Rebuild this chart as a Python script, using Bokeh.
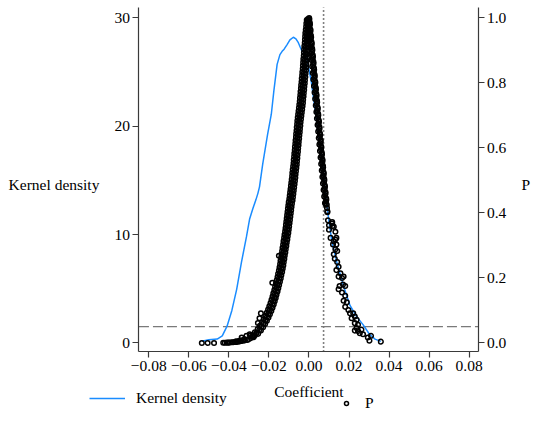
from bokeh.plotting import figure
from bokeh.models import (Range1d, LinearAxis, FixedTicker, Label, Legend,
                          LegendItem, CustomJSTickFormatter, Grid)
from bokeh.embed import file_html
from bokeh.resources import INLINE

# ---------------- data ----------------
kd_coef = [-0.0535, -0.0500, -0.0458, -0.0433, -0.0409, -0.0385, -0.0361, -0.0337,
           -0.0312, -0.0296, -0.0280, -0.0265, -0.0255, -0.0247, -0.0231, -0.0207,
           -0.0188, -0.0175, -0.0159, -0.0145, -0.0134, -0.0124, -0.0110, -0.0095,
           -0.0078, -0.0065, -0.0053, -0.0037, -0.0025, -0.0012, -0.0003, 0.0011,
           0.0035, 0.0050, 0.0068, 0.0084, 0.0100, 0.0115, 0.0141, 0.0173, 0.0205,
           0.0238, 0.0270, 0.0302, 0.0330, 0.0359]
kd_density = [0.15, 0.30, 0.36, 0.65, 1.55, 3.00, 4.95, 7.46,
              9.80, 11.46, 12.40, 13.20, 13.80, 14.40, 16.50, 19.20,
              21.10, 23.30, 25.70, 26.60, 26.90, 27.10, 27.50, 27.95,
              28.20, 28.05, 27.70, 27.00, 26.80, 26.30, 25.50, 24.20,
              20.90, 18.80, 16.50, 13.50, 11.20, 9.30, 7.30, 5.24, 3.46,
              2.43, 1.69, 0.80, 0.35, 0.15]

# (coefficient, P) of placebo estimates, left branch
p_left = [
    (-0.0005, 0.996), (0.0001, 0.999), (-0.0011, 0.993), (-0.0001, 0.988),
    (-0.0013, 0.983), (-0.0002, 0.978), (-0.0014, 0.973), (-0.0001, 0.968),
    (-0.0016, 0.963), (-0.0002, 0.958), (-0.0018, 0.953), (-0.0003, 0.948),
    (-0.0019, 0.943), (-0.0004, 0.938), (-0.0020, 0.933), (-0.0005, 0.928),
    (-0.0021, 0.923), (-0.0006, 0.918), (-0.0023, 0.913), (-0.0007, 0.908),
    (-0.0024, 0.903), (-0.0008, 0.898), (-0.0025, 0.893), (-0.0009, 0.888),
    (-0.0026, 0.883), (-0.0010, 0.878), (-0.0028, 0.873), (-0.0012, 0.868),
    (-0.0029, 0.863), (-0.0013, 0.858), (-0.0030, 0.853), (-0.0014, 0.848),
    (-0.0031, 0.843), (-0.0015, 0.838), (-0.0033, 0.833), (-0.0017, 0.828),
    (-0.0034, 0.823), (-0.0018, 0.818), (-0.0036, 0.813), (-0.0020, 0.808),
    (-0.0037, 0.803), (-0.0021, 0.798), (-0.0039, 0.793), (-0.0023, 0.788),
    (-0.0040, 0.783), (-0.0024, 0.778), (-0.0042, 0.773), (-0.0026, 0.768),
    (-0.0043, 0.763), (-0.0027, 0.758), (-0.0045, 0.753), (-0.0029, 0.748),
    (-0.0046, 0.743), (-0.0030, 0.738), (-0.0048, 0.733), (-0.0032, 0.728),
    (-0.0050, 0.723), (-0.0034, 0.718), (-0.0052, 0.713), (-0.0036, 0.708),
    (-0.0054, 0.703), (-0.0038, 0.698), (-0.0056, 0.693), (-0.0040, 0.688),
    (-0.0058, 0.683), (-0.0042, 0.678), (-0.0059, 0.673), (-0.0043, 0.668),
    (-0.0061, 0.663), (-0.0045, 0.658), (-0.0062, 0.653), (-0.0046, 0.648),
    (-0.0064, 0.643), (-0.0048, 0.638), (-0.0065, 0.633), (-0.0049, 0.628),
    (-0.0067, 0.623), (-0.0051, 0.618), (-0.0068, 0.613), (-0.0052, 0.608),
    (-0.0070, 0.603), (-0.0054, 0.598), (-0.0071, 0.593), (-0.0055, 0.588),
    (-0.0073, 0.583), (-0.0057, 0.578), (-0.0074, 0.573), (-0.0058, 0.568),
    (-0.0076, 0.563), (-0.0060, 0.558), (-0.0077, 0.553), (-0.0061, 0.548),
    (-0.0079, 0.543), (-0.0063, 0.538), (-0.0081, 0.533), (-0.0065, 0.528),
    (-0.0083, 0.523), (-0.0067, 0.518), (-0.0084, 0.513), (-0.0068, 0.508),
    (-0.0086, 0.503), (-0.0070, 0.498), (-0.0088, 0.493), (-0.0072, 0.488),
    (-0.0090, 0.483), (-0.0074, 0.478), (-0.0092, 0.473), (-0.0076, 0.468),
    (-0.0094, 0.463), (-0.0078, 0.458), (-0.0096, 0.453), (-0.0080, 0.448),
    (-0.0098, 0.443), (-0.0082, 0.438), (-0.0101, 0.433), (-0.0085, 0.428),
    (-0.0103, 0.423), (-0.0087, 0.418), (-0.0105, 0.413), (-0.0089, 0.408),
    (-0.0107, 0.403), (-0.0091, 0.398), (-0.0109, 0.393), (-0.0093, 0.388),
    (-0.0111, 0.383), (-0.0095, 0.378), (-0.0113, 0.373), (-0.0097, 0.368),
    (-0.0115, 0.363), (-0.0099, 0.358), (-0.0117, 0.353), (-0.0101, 0.348),
    (-0.0119, 0.343), (-0.0103, 0.338), (-0.0122, 0.333), (-0.0106, 0.328),
    (-0.0124, 0.323), (-0.0108, 0.318), (-0.0127, 0.313), (-0.0111, 0.308),
    (-0.0129, 0.303), (-0.0113, 0.298), (-0.0132, 0.293), (-0.0116, 0.288),
    (-0.0134, 0.283), (-0.0118, 0.278), (-0.0137, 0.273), (-0.0121, 0.268),
    (-0.0139, 0.263), (-0.0123, 0.258), (-0.0142, 0.253), (-0.0126, 0.248),
    (-0.0144, 0.243), (-0.0128, 0.238), (-0.0147, 0.233), (-0.0131, 0.228),
    (-0.0150, 0.223), (-0.0134, 0.218), (-0.0154, 0.213), (-0.0138, 0.208),
    (-0.0157, 0.203), (-0.0141, 0.198), (-0.0161, 0.193), (-0.0145, 0.188),
    (-0.0165, 0.183), (-0.0149, 0.178), (-0.0169, 0.173), (-0.0153, 0.168),
    (-0.0173, 0.163), (-0.0157, 0.158), (-0.0178, 0.153), (-0.0162, 0.148),
    (-0.0182, 0.143), (-0.0166, 0.138), (-0.0187, 0.133), (-0.0171, 0.128),
    (-0.0192, 0.123), (-0.0176, 0.118), (-0.0198, 0.113), (-0.0182, 0.108),
    (-0.0204, 0.103), (-0.0188, 0.098), (-0.0211, 0.093), (-0.0195, 0.088),
    (-0.0218, 0.083), (-0.0202, 0.078), (-0.0226, 0.073), (-0.0210, 0.068),
    (-0.0235, 0.063), (-0.0219, 0.058), (-0.0245, 0.053), (-0.0229, 0.048),
    (-0.0256, 0.043), (-0.0240, 0.038), (-0.0270, 0.033), (-0.0254, 0.028),
    (-0.0292, 0.023), (-0.0276, 0.018), (-0.0323, 0.012), (-0.0307, 0.009),
    (-0.0330, 0.007), (-0.0338, 0.006), (-0.0345, 0.005), (-0.0355, 0.004),
    (-0.0362, 0.003), (-0.0370, 0.003), (-0.0378, 0.002), (-0.0385, 0.002),
    (-0.0395, 0.0015), (-0.0402, 0.001), (-0.0410, 0.001), (-0.0420, 0.0008),
    (-0.0428, 0.0005), (-0.0300, 0.012), (-0.0290, 0.015), (-0.0280, 0.020),
    (-0.0270, 0.024), (-0.0320, 0.008), (-0.0340, 0.008), (-0.0350, 0.006),
    (-0.0365, 0.005), (-0.0150, 0.268), (-0.0183, 0.185), (-0.0240, 0.091),
    (-0.0247, 0.076), (-0.0255, 0.061), (-0.0336, 0.017), (-0.0312, 0.022),
    (-0.0296, 0.027), (-0.0474, 0.000), (-0.0506, 0.000), (-0.0535, 0.000),
]

# middle of the dense left band
p_left_mid = [
    (-0.0004, 0.99), (-0.0006, 0.98), (-0.0007, 0.97), (-0.0009, 0.96), (-0.0010, 0.95),
    (-0.0011, 0.94), (-0.0012, 0.93), (-0.0013, 0.92), (-0.0015, 0.91), (-0.0016, 0.90),
    (-0.0017, 0.89), (-0.0018, 0.88), (-0.0020, 0.87), (-0.0021, 0.86), (-0.0022, 0.85),
    (-0.0023, 0.84), (-0.0025, 0.83), (-0.0026, 0.82), (-0.0028, 0.81), (-0.0029, 0.80),
    (-0.0031, 0.79), (-0.0032, 0.78), (-0.0034, 0.77), (-0.0035, 0.76), (-0.0037, 0.75),
    (-0.0038, 0.74), (-0.0040, 0.73), (-0.0042, 0.72), (-0.0044, 0.71), (-0.0046, 0.70),
    (-0.0048, 0.69), (-0.0050, 0.68), (-0.0051, 0.67), (-0.0053, 0.66), (-0.0054, 0.65),
    (-0.0056, 0.64), (-0.0057, 0.63), (-0.0059, 0.62), (-0.0060, 0.61), (-0.0062, 0.60),
    (-0.0063, 0.59), (-0.0065, 0.58), (-0.0066, 0.57), (-0.0068, 0.56), (-0.0069, 0.55),
    (-0.0071, 0.54), (-0.0073, 0.53), (-0.0075, 0.52), (-0.0076, 0.51), (-0.0078, 0.50),
    (-0.0080, 0.49), (-0.0082, 0.48), (-0.0084, 0.47), (-0.0086, 0.46), (-0.0088, 0.45),
    (-0.0090, 0.44), (-0.0093, 0.43), (-0.0095, 0.42), (-0.0097, 0.41), (-0.0099, 0.40),
    (-0.0101, 0.39), (-0.0103, 0.38), (-0.0105, 0.37), (-0.0107, 0.36), (-0.0109, 0.35),
    (-0.0111, 0.34), (-0.0114, 0.33), (-0.0116, 0.32), (-0.0119, 0.31), (-0.0121, 0.30),
    (-0.0124, 0.29), (-0.0126, 0.28), (-0.0129, 0.27), (-0.0131, 0.26), (-0.0134, 0.25),
    (-0.0136, 0.24), (-0.0139, 0.23), (-0.0142, 0.22), (-0.0146, 0.21), (-0.0149, 0.20),
    (-0.0153, 0.19), (-0.0157, 0.18), (-0.0161, 0.17), (-0.0165, 0.16), (-0.0170, 0.15),
    (-0.0174, 0.14), (-0.0179, 0.13), (-0.0184, 0.12), (-0.0190, 0.11), (-0.0196, 0.10),
    (-0.0203, 0.09), (-0.0210, 0.08), (-0.0218, 0.07), (-0.0227, 0.06), (-0.0237, 0.05),
    (-0.0248, 0.04), (-0.0262, 0.03), (-0.0284, 0.02),
]

# (coefficient, P) of placebo estimates, right branch
p_right = [
    (0.0002, 0.995), (0.0004, 0.985), (0.0003, 0.975), (0.0007, 0.965),
    (0.0006, 0.955), (0.0010, 0.945), (0.0009, 0.935), (0.0013, 0.925),
    (0.0012, 0.915), (0.0016, 0.905), (0.0015, 0.895), (0.0019, 0.885),
    (0.0018, 0.875), (0.0022, 0.865), (0.0021, 0.855), (0.0025, 0.845),
    (0.0024, 0.835), (0.0028, 0.825), (0.0027, 0.815), (0.0031, 0.805),
    (0.0030, 0.795), (0.0034, 0.785), (0.0033, 0.775), (0.0037, 0.765),
    (0.0036, 0.755), (0.0040, 0.745), (0.0039, 0.735), (0.0043, 0.725),
    (0.0042, 0.715), (0.0046, 0.705), (0.0045, 0.695), (0.0049, 0.685),
    (0.0048, 0.675), (0.0052, 0.665), (0.0051, 0.655), (0.0055, 0.645),
    (0.0054, 0.635), (0.0058, 0.625), (0.0057, 0.615), (0.0061, 0.605),
    (0.0060, 0.595), (0.0064, 0.585), (0.0063, 0.575), (0.0067, 0.565),
    (0.0066, 0.555), (0.0070, 0.545), (0.0069, 0.535), (0.0073, 0.525),
    (0.0072, 0.515), (0.0076, 0.505), (0.0075, 0.495), (0.0079, 0.485),
    (0.0078, 0.475), (0.0082, 0.465), (0.0081, 0.455), (0.0086, 0.445),
    (0.0085, 0.435), (0.0089, 0.425), (0.0090, 0.415), (0.0092, 0.405),
    (-0.0004, 0.990), (-0.0002, 0.970), (0.0001, 0.950), (0.0004, 0.930),
    (0.0007, 0.910), (0.0010, 0.890), (0.0013, 0.870), (0.0016, 0.850),
    (0.0019, 0.830), (0.0022, 0.810), (0.0025, 0.790), (0.0028, 0.770),
    (0.0031, 0.750), (0.0034, 0.730), (0.0037, 0.710), (0.0040, 0.690),
    (0.0043, 0.670), (0.0046, 0.650), (0.0049, 0.630), (0.0052, 0.610),
    (0.0055, 0.590), (0.0058, 0.570), (0.0061, 0.550), (0.0064, 0.530),
    (0.0067, 0.510), (0.0070, 0.490), (0.0073, 0.470), (0.0076, 0.450),
    (0.0080, 0.430),
    (0.0005, 0.98), (0.0008, 0.96), (0.0011, 0.94), (0.0014, 0.92), (0.0017, 0.90),
    (0.0020, 0.88), (0.0023, 0.86), (0.0026, 0.84), (0.0029, 0.82), (0.0032, 0.80),
    (0.0035, 0.78), (0.0038, 0.76), (0.0041, 0.74), (0.0044, 0.72), (0.0047, 0.70),
    (0.0050, 0.68), (0.0053, 0.66), (0.0056, 0.64), (0.0059, 0.62), (0.0062, 0.60),
    (0.0065, 0.58), (0.0068, 0.56), (0.0071, 0.54), (0.0074, 0.52), (0.0077, 0.50),
    (0.0080, 0.48), (0.0083, 0.46), (0.0087, 0.44),
    (0.0084, 0.426), (0.0092, 0.402), (0.0095, 0.377), (0.0100, 0.362),
    (0.0116, 0.367), (0.0118, 0.360), (0.0100, 0.348), (0.0108, 0.323),
    (0.0124, 0.313), (0.0132, 0.318), (0.0137, 0.303), (0.0120, 0.303),
    (0.0132, 0.288), (0.0141, 0.283), (0.0124, 0.273), (0.0129, 0.259),
    (0.0141, 0.249), (0.0148, 0.234), (0.0137, 0.224), (0.0157, 0.214),
    (0.0148, 0.204), (0.0165, 0.200), (0.0173, 0.204), (0.0153, 0.175),
    (0.0170, 0.180), (0.0181, 0.175), (0.0148, 0.165), (0.0165, 0.155),
    (0.0181, 0.145), (0.0173, 0.130), (0.0189, 0.125), (0.0181, 0.111),
    (0.0197, 0.101), (0.0205, 0.091), (0.0221, 0.091), (0.0229, 0.081),
    (0.0213, 0.076), (0.0238, 0.071), (0.0229, 0.061), (0.0245, 0.056),
    (0.0238, 0.046), (0.0229, 0.038), (0.0245, 0.037), (0.0262, 0.041),
    (0.0270, 0.027), (0.0254, 0.030), (0.0294, 0.017), (0.0310, 0.022),
    (0.0302, 0.007), (0.0359, 0.004), (0.0116, 0.372), (0.0124, 0.357),
    (0.0132, 0.342), (0.0137, 0.323),
]

true_coef = 0.0073      # vertical reference line
p_threshold = 0.05      # horizontal reference line (right axis)

x_ticks = [-0.08, -0.06, -0.04, -0.02, 0.0, 0.02, 0.04, 0.06, 0.08]
y_ticks = [0, 10, 20, 30]
p_ticks = [0.0, 0.2, 0.4, 0.6, 0.8, 1.0]

# axis extents (data units)
X_LO, X_HI = -0.0849, 0.0849
Y_LO, Y_HI = -0.83, 30.95
P_SCALE = 30.0          # right axis = left axis / 30

# ---------------- figure ----------------
FONT = "Liberation Serif"
FS = "15.5px"
AXC = "#3a3a3a"

p = figure(width=534, height=414, output_backend="svg", toolbar_location=None,
           x_range=Range1d(-0.15404, 0.11263), y_range=Range1d(-6.599, 31.590),
           x_axis_location=None, y_axis_location=None,
           min_border=0)
p.outline_line_color = None
p.background_fill_color = "white"
p.border_fill_color = "white"
p.extra_y_ranges = {"p": Range1d(-6.599 / P_SCALE, 31.590 / P_SCALE)}
for r in list(p.center):
    if isinstance(r, Grid):
        r.visible = False


def style(ax, standoff):
    ax.axis_line_color = AXC
    ax.axis_line_width = 1.2
    ax.major_tick_line_color = AXC
    ax.major_tick_line_width = 1.2
    ax.major_tick_out = 6
    ax.major_tick_in = 0
    ax.minor_tick_line_color = None
    ax.major_label_text_font = FONT
    ax.major_label_text_font_size = FS
    ax.major_label_text_color = "black"
    ax.major_label_standoff = standoff


xa = LinearAxis(ticker=FixedTicker(ticks=x_ticks), fixed_location=Y_LO,
                bounds=(X_LO, X_HI),
                formatter=CustomJSTickFormatter(
                    code="const s = Math.abs(tick).toFixed(2); return tick < -1e-12 ? '\u2212' + s : s;"))
style(xa, 3)
p.add_layout(xa, "below")

ya = LinearAxis(ticker=FixedTicker(ticks=y_ticks), fixed_location=X_LO,
                bounds=(Y_LO, Y_HI))
style(ya, 3)
p.add_layout(ya, "left")

ra = LinearAxis(y_range_name="p", ticker=FixedTicker(ticks=p_ticks),
                fixed_location=X_HI, bounds=(Y_LO / P_SCALE, Y_HI / P_SCALE),
                formatter=CustomJSTickFormatter(code="return tick.toFixed(1);"))
style(ra, 2)
p.add_layout(ra, "right")

# reference lines, spanning the axes
p.segment(x0=[true_coef], y0=[Y_LO], x1=[true_coef], y1=[Y_HI],
          line_color="#808080", line_width=1.6, line_dash="2 2")
p.segment(x0=[X_LO], y0=[p_threshold], x1=[X_HI], y1=[p_threshold],
          y_range_name="p", line_color="#7a7a7a", line_width=1.3, line_dash="10 4")

kd = p.line(kd_coef, kd_density, line_color="#1a8cff", line_width=1.5)

pts = p_left + p_left_mid + p_right
sc = p.scatter([c for c, _ in pts], [v for _, v in pts], y_range_name="p",
               marker="circle", size=4.6, fill_color=None, line_color="black",
               line_width=1.5)

p.add_layout(Label(x=-0.1500, y=14.63, text="Kernel density", text_font=FONT,
                   text_font_size=FS, text_color="black",
                   text_baseline="alphabetic"))
p.add_layout(Label(x=0.1062, y=14.63, text="P", text_font=FONT,
                   text_font_size=FS, text_color="black",
                   text_baseline="alphabetic"))
p.add_layout(Label(x=0.0, y=-4.45, text="Coefficient", text_font=FONT,
                   text_font_size=FS, text_color="black", text_align="center",
                   text_baseline="alphabetic"))

common = dict(padding=0, margin=0, border_line_color=None, background_fill_alpha=0,
              label_text_font=FONT, label_text_font_size=FS, label_text_color="black",
              glyph_height=20, label_height=20, spacing=0)
leg1 = Legend(items=[LegendItem(label="Kernel density", renderers=[kd])],
              location=(89, 6), glyph_width=36, label_standoff=11, **common)
leg2 = Legend(items=[LegendItem(label="P", renderers=[sc])],
              location=(341, 1), glyph_width=10, label_standoff=14, **common)
p.add_layout(leg1)
p.add_layout(leg2)

open("out.html", "w").write(file_html(p, INLINE))
